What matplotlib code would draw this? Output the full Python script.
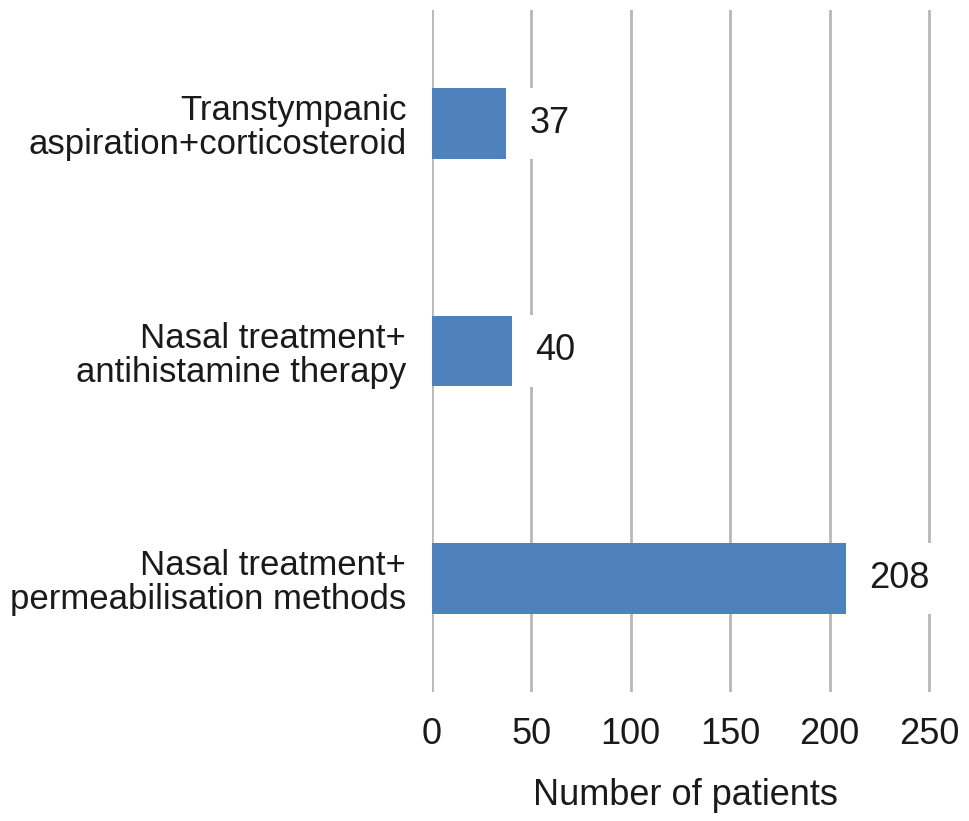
import matplotlib
matplotlib.use("Agg")
import matplotlib.pyplot as plt

categories = ["Nasal treatment+\npermeabilisation methods",
              "Nasal treatment+\nantihistamine therapy",
              "Transtympanic\naspiration+corticosteroid"]
values = [208, 40, 37]
xticks = [0, 50, 100, 150, 200, 250]

plt.rcParams['font.family'] = ['Liberation Sans', 'DejaVu Sans']
fig = plt.figure(figsize=(9.69, 8.21), dpi=100)
ax = fig.add_axes([432/969, 1-692/821, (929-432)/969 * 255/250, (692-10)/821])

ax.barh(range(len(categories)), values, height=0.31, color='#4F81BD', zorder=2)
ax.set_xlim(0, 255)
ax.set_ylim(-0.5, 2.5)
ax.set_xticks(xticks)
ax.set_yticks(range(len(categories)))
ax.set_yticklabels(categories, fontsize=25, linespacing=1.05, ha='right')
ax.tick_params(axis='x', length=0, pad=18, labelsize=26, colors='#1a1a1a')
ax.tick_params(axis='y', length=0, pad=18.5, colors='#1a1a1a')
for s in ax.spines.values():
    s.set_visible(False)
ax.grid(axis='x', color='#b8b8b8', linewidth=2, zorder=0)
ax.set_axisbelow(True)
ax.set_xlabel("Number of patients", fontsize=26, labelpad=19, color='#1a1a1a')

for i, v in enumerate(values):
    ax.annotate(str(v), xy=(v, i), xytext=(17, 0), textcoords='offset points',
                va='center', ha='left', fontsize=26, color='#1a1a1a',
                bbox=dict(boxstyle='square,pad=0.5', fc='white', ec='none'), zorder=3)

fig.savefig("out.png", dpi=100, facecolor='white')
